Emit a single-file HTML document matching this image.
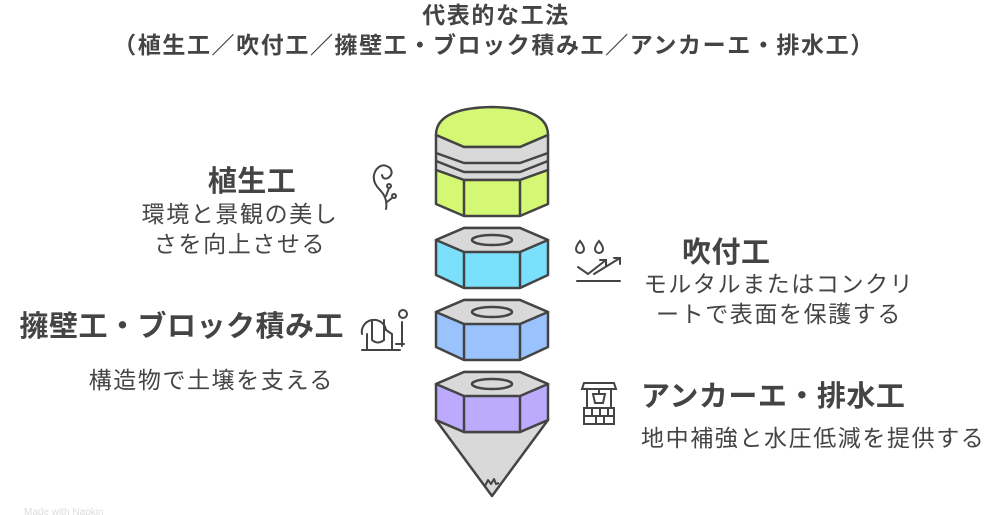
<!DOCTYPE html>
<html><head><meta charset="utf-8"><style>
html,body{margin:0;padding:0;background:#fff;}
svg{display:block}
text{font-family:"Liberation Sans","Noto Sans CJK JP",sans-serif;fill:#444}
.t{font-weight:bold;font-size:23px;letter-spacing:1.6px}
.h{font-weight:bold;font-size:29px;letter-spacing:0.5px}
.d{font-size:23px;letter-spacing:1.6px}
</style></head><body>
<svg width="996" height="515" viewBox="0 0 996 515" xmlns="http://www.w3.org/2000/svg">
<text class="t" x="496" y="23" text-anchor="middle">代表的な工法</text>
<text class="t" x="494" y="53" text-anchor="middle">（植生工／吹付工／擁壁工・ブロック積み工／アンカーエ・排水工）</text>

<g stroke="#444" stroke-width="2.5" stroke-linejoin="round">
<path d="M436 135 Q436 108 492 107 Q548 108 548 135 L520 147 L464 147 Z" fill="#d4f774"/>
<path d="M436 135 L464 147 L520 147 L548 135 L548 170 L520 180 L464 180 L436 170 Z" fill="#d9d9d9"/>
<path d="M436 153 L464 163 L520 163 L548 153" fill="none"/>
<path d="M436 161 L464 172 L520 172 L548 161" fill="none"/>
<path d="M436 170 L464 180 L520 180 L548 170 L548 204 L520 216 L464 216 L436 204 Z" fill="#d4f774"/>
<path d="M464 180 L464 216 M520 180 L520 216" fill="none"/>
<path d="M436 240 L464 228 L520 228 L548 240 L548 275 L520 288 L464 288 L436 275 Z" fill="#7ae0fc"/>
<path d="M436 240 L464 228 L520 228 L548 240 L520 252 L464 252 Z" fill="#d9d9d9"/>
<path d="M464 252 L464 288 M520 252 L520 288" fill="none"/>
<ellipse cx="492" cy="240" rx="20" ry="5" fill="#d9d9d9"/>
<path d="M436 312 L464 300 L520 300 L548 312 L548 347 L520 360 L464 360 L436 347 Z" fill="#9ac2fd"/>
<path d="M436 312 L464 300 L520 300 L548 312 L520 324 L464 324 Z" fill="#d9d9d9"/>
<path d="M464 324 L464 360 M520 324 L520 360" fill="none"/>
<ellipse cx="492" cy="312" rx="20" ry="5" fill="#d9d9d9"/>
<path d="M436 420 L464 432 L520 432 L548 420 L492 496 Z" fill="#d9d9d9"/>
<path d="M485 486 L488 480 L491 484 L494 479 L496 484 L499 483" fill="none" stroke-width="2"/>
<path d="M436 384 L464 372 L520 372 L548 384 L548 420 L520 432 L464 432 L436 420 Z" fill="#bcaafc"/>
<path d="M436 384 L464 372 L520 372 L548 384 L520 396 L464 396 Z" fill="#d9d9d9"/>
<path d="M464 396 L464 432 M520 396 L520 432" fill="none"/>
<ellipse cx="492" cy="384" rx="20" ry="5" fill="#d9d9d9"/>
</g>

<g stroke="#444" stroke-width="2" fill="none" stroke-linecap="round">
<path d="M386 209 Q388 198 380 190 Q370 180 376 170 Q382 162 390 168 Q394 174 388 178 Q383 180 382 175"/>
<circle cx="389" cy="186" r="2"/><path d="M389 188 L386 196"/>
<circle cx="394" cy="196" r="2"/><path d="M392 198 L387 202"/>
<path d="M580 241 Q584 246 584 249 A4 4 0 0 1 576 249 Q576 246 580 241Z"/>
<path d="M599 241 Q603 246 603 249 A4 4 0 0 1 595 249 Q595 246 599 241Z"/>
<path d="M578 267 L588 274 L606 260 M600 260 L606 260 L606 266 M594 274 L620 258 M614 258 L620 258 L620 264"/>
<path d="M577 281 L620 281"/>
<path d="M362 350 L400 350 M367 350 L367 334 M362 334 A12 12 0 0 1 386 330 L392 334 L392 350 M372 320 L372 340 Q378 345 384 340 L384 320 M402 322 L402 346 M396 344 L404 344"/>
<circle cx="403" cy="314" r="4"/>
<path d="M584 383 L614 383 L616 389 L582 389 Z M587 389 L587 408 M611 389 L611 408 M593 394 L605 394 L603 403 L595 403 Z M599 389 L599 394"/>
<path d="M584 408 L614 408 L614 424 L584 424 Z M584 416 L614 416 M592 408 L592 416 M600 408 L600 416 M608 408 L608 416 M596 416 L596 424 M604 416 L604 424"/>
</g>

<text class="h" x="252" y="191" text-anchor="middle">植生工</text>
<text class="d" x="240" y="222" text-anchor="middle">環境と景観の美し</text>
<text class="d" x="240" y="252" text-anchor="middle">さを向上させる</text>
<text class="h" x="344" y="336" text-anchor="end">擁壁工・ブロック積み工</text>
<text class="d" x="334" y="388" text-anchor="end">構造物で土壌を支える</text>
<text class="h" x="682" y="262">吹付工</text>
<text class="d" x="779" y="292" text-anchor="middle">モルタルまたはコンクリ</text>
<text class="d" x="779" y="322" text-anchor="middle">ートで表面を保護する</text>
<text class="h" x="641" y="406">アンカーエ・排水工</text>
<text class="d" x="641" y="446">地中補強と水圧低減を提供する</text>
<text x="24" y="515" style="font-size:10px;fill:#ddd">Made with Napkin</text>
</svg>
</body></html>
